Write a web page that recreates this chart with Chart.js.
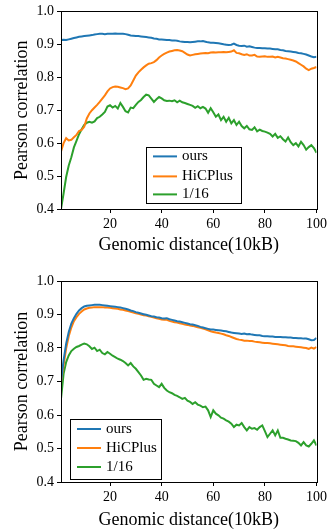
<!DOCTYPE html>
<html>
<head>
<meta charset="utf-8">
<script src="https://cdn.jsdelivr.net/npm/chart.js@4.4.1/dist/chart.umd.min.js"></script>
<style>
  html, body { margin: 0; padding: 0; background: #fff; }
  canvas { display: block; }
</style>
</head>
<body>
<canvas id="topChart" width="330" height="264"></canvas>
<canvas id="bottomChart" width="330" height="265"></canvas>
<script>
// genomic distance (10kB)
const distances = [
  1, 2, 3, 4, 5, 6, 7, 8, 9, 10, 11, 12, 13, 14, 15, 16, 17, 18, 19, 20,
  21, 22, 23, 24, 25, 26, 27, 28, 29, 30, 31, 32, 33, 34, 35, 36, 37, 38, 39, 40,
  41, 42, 43, 44, 45, 46, 47, 48, 49, 50, 51, 52, 53, 54, 55, 56, 57, 58, 59, 60,
  61, 62, 63, 64, 65, 66, 67, 68, 69, 70, 71, 72, 73, 74, 75, 76, 77, 78, 79, 80,
  81, 82, 83, 84, 85, 86, 87, 88, 89, 90, 91, 92, 93, 94, 95, 96, 97, 98, 99, 100,
];
const xTicks = [20, 40, 60, 80, 100];
const seriesNames = ["ours", "HiCPlus", "1/16"];

// top panel
const topOurs = [
  0.913, 0.914, 0.913, 0.915, 0.917, 0.919, 0.921, 0.923, 0.924, 0.925,
  0.926, 0.927, 0.928, 0.930, 0.931, 0.932, 0.932, 0.931, 0.932, 0.932,
  0.932, 0.933, 0.932, 0.932, 0.932, 0.931, 0.929, 0.927, 0.926, 0.925,
  0.925, 0.924, 0.923, 0.922, 0.921, 0.920, 0.918, 0.917, 0.915, 0.915,
  0.914, 0.913, 0.913, 0.912, 0.912, 0.911, 0.909, 0.908, 0.907, 0.907,
  0.906, 0.907, 0.908, 0.909, 0.909, 0.910, 0.908, 0.906, 0.905, 0.905,
  0.904, 0.903, 0.902, 0.900, 0.899, 0.898, 0.899, 0.902, 0.898, 0.896,
  0.895, 0.896, 0.893, 0.894, 0.892, 0.890, 0.889, 0.889, 0.888, 0.888,
  0.887, 0.887, 0.886, 0.885, 0.885, 0.883, 0.882, 0.880, 0.879, 0.878,
  0.877, 0.876, 0.874, 0.873, 0.871, 0.869, 0.866, 0.863, 0.861, 0.862,
];
const topHiCPlus = [
  0.575, 0.600, 0.615, 0.608, 0.610, 0.618, 0.625, 0.637, 0.640, 0.650,
  0.675, 0.690, 0.700, 0.708, 0.716, 0.725, 0.735, 0.745, 0.757, 0.766,
  0.770, 0.772, 0.771, 0.769, 0.767, 0.764, 0.766, 0.775, 0.790, 0.805,
  0.815, 0.823, 0.830, 0.836, 0.841, 0.843, 0.846, 0.852, 0.860, 0.866,
  0.871, 0.875, 0.878, 0.880, 0.882, 0.883, 0.881, 0.879, 0.874, 0.869,
  0.866, 0.868, 0.870, 0.871, 0.872, 0.873, 0.874, 0.873, 0.875, 0.876,
  0.875, 0.876, 0.876, 0.877, 0.876, 0.877, 0.878, 0.882, 0.874, 0.873,
  0.870, 0.868, 0.870, 0.866, 0.866, 0.868, 0.863, 0.862, 0.863, 0.864,
  0.862, 0.862, 0.863, 0.860, 0.862, 0.860, 0.858, 0.857, 0.855, 0.853,
  0.851, 0.848, 0.843, 0.838, 0.833, 0.826, 0.822, 0.826, 0.828, 0.831,
];
const topLow = [
  0.400, 0.447, 0.497, 0.532, 0.557, 0.587, 0.607, 0.627, 0.642, 0.655,
  0.662, 0.665, 0.662, 0.666, 0.676, 0.680, 0.687, 0.695, 0.711, 0.715,
  0.708, 0.713, 0.705, 0.722, 0.710, 0.697, 0.693, 0.708, 0.706, 0.716,
  0.725, 0.731, 0.740, 0.747, 0.745, 0.735, 0.725, 0.733, 0.740, 0.736,
  0.730, 0.728, 0.729, 0.727, 0.730, 0.724, 0.729, 0.724, 0.722, 0.719,
  0.716, 0.713, 0.707, 0.712, 0.706, 0.710, 0.705, 0.692, 0.706, 0.694,
  0.680, 0.687, 0.670, 0.680, 0.665, 0.677, 0.660, 0.670, 0.655, 0.665,
  0.652, 0.645, 0.652, 0.642, 0.640, 0.648, 0.636, 0.641, 0.637, 0.635,
  0.632, 0.628, 0.620, 0.628, 0.616, 0.621, 0.612, 0.605, 0.617, 0.603,
  0.594, 0.600, 0.590, 0.604, 0.594, 0.580, 0.588, 0.594, 0.585, 0.571,
];

// bottom panel
const bottomOurs = [
  0.698, 0.763, 0.813, 0.848, 0.873, 0.889, 0.902, 0.912, 0.919, 0.924,
  0.926, 0.927, 0.928, 0.929, 0.929, 0.929, 0.928, 0.927, 0.926, 0.925,
  0.924, 0.923, 0.922, 0.921, 0.919, 0.917, 0.915, 0.912, 0.910, 0.907,
  0.905, 0.903, 0.901, 0.899, 0.897, 0.895, 0.894, 0.892, 0.891, 0.889,
  0.888, 0.889, 0.886, 0.884, 0.882, 0.880, 0.879, 0.877, 0.875, 0.873,
  0.871, 0.870, 0.868, 0.866, 0.863, 0.861, 0.859, 0.857, 0.855, 0.855,
  0.854, 0.853, 0.852, 0.851, 0.850, 0.848, 0.846, 0.845, 0.844, 0.843,
  0.842, 0.843, 0.841, 0.842, 0.840, 0.839, 0.838, 0.838, 0.836, 0.835,
  0.835, 0.834, 0.834, 0.833, 0.833, 0.833, 0.832, 0.832, 0.831, 0.831,
  0.830, 0.830, 0.829, 0.829, 0.828, 0.828, 0.826, 0.823, 0.824, 0.830,
];
const bottomHiCPlus = [
  0.698, 0.748, 0.798, 0.835, 0.861, 0.880, 0.892, 0.902, 0.909, 0.915,
  0.918, 0.920, 0.921, 0.922, 0.922, 0.922, 0.922, 0.921, 0.921, 0.920,
  0.919, 0.918, 0.917, 0.915, 0.914, 0.912, 0.910, 0.908, 0.906, 0.904,
  0.902, 0.900, 0.898, 0.897, 0.895, 0.893, 0.891, 0.889, 0.887, 0.885,
  0.884, 0.884, 0.881, 0.879, 0.877, 0.876, 0.874, 0.872, 0.870, 0.869,
  0.867, 0.866, 0.864, 0.862, 0.860, 0.858, 0.856, 0.853, 0.850, 0.848,
  0.846, 0.845, 0.843, 0.841, 0.838, 0.836, 0.833, 0.830, 0.827, 0.825,
  0.824, 0.822, 0.822, 0.821, 0.821, 0.819, 0.818, 0.817, 0.816, 0.815,
  0.815, 0.814, 0.813, 0.812, 0.811, 0.810, 0.809, 0.808, 0.806, 0.805,
  0.805, 0.804, 0.803, 0.802, 0.801, 0.800, 0.797, 0.801, 0.798, 0.803,
];
const bottomLow = [
  0.648, 0.723, 0.758, 0.778, 0.791, 0.798, 0.803, 0.806, 0.810, 0.813,
  0.811, 0.805, 0.797, 0.801, 0.791, 0.795, 0.785, 0.781, 0.788, 0.783,
  0.777, 0.773, 0.768, 0.765, 0.761, 0.755, 0.748, 0.755, 0.745, 0.738,
  0.728, 0.718, 0.705, 0.708, 0.706, 0.705, 0.693, 0.688, 0.683, 0.693,
  0.681, 0.673, 0.668, 0.665, 0.660, 0.657, 0.653, 0.648, 0.651, 0.643,
  0.639, 0.633, 0.638, 0.631, 0.628, 0.623, 0.625, 0.614, 0.594, 0.614,
  0.604, 0.599, 0.592, 0.589, 0.584, 0.580, 0.574, 0.564, 0.571, 0.569,
  0.576, 0.564, 0.554, 0.564, 0.559, 0.561, 0.556, 0.564, 0.569, 0.552,
  0.534, 0.544, 0.554, 0.539, 0.554, 0.532, 0.532, 0.529, 0.527, 0.524,
  0.523, 0.522, 0.517, 0.509, 0.519, 0.509, 0.506, 0.514, 0.524, 0.509,
];

const colors = ["#1f77b4", "#ff7f0e", "#2ca02c"];
const serif = "'Liberation Serif', 'DejaVu Serif', serif";

function pts(vals) {
  return vals.map((v, i) => ({ x: distances[i], y: v }));
}

// black frame round the plot area + boxed legend inside it
const frameLegend = {
  id: "frameLegend",
  afterDraw(chart, args, opts) {
    const { ctx, chartArea: a } = chart;
    ctx.save();
    ctx.strokeStyle = "#000";
    ctx.lineWidth = 1;
    ctx.strokeRect(Math.round(a.left) + 0.5, Math.round(a.top) + 0.5,
      Math.round(a.right - a.left), Math.round(a.bottom - a.top));

    const bx = a.left + opts.x, by = a.top + opts.y;
    ctx.fillStyle = "#fff";
    ctx.fillRect(bx, by, opts.w, opts.h);
    ctx.strokeRect(Math.round(bx) + 0.5, Math.round(by) + 0.5, opts.w, opts.h);
    ctx.font = "15px " + serif;
    ctx.textBaseline = "middle";
    chart.data.datasets.forEach((ds, i) => {
      const ry = by + opts.rows[i];
      ctx.strokeStyle = ds.borderColor;
      ctx.lineWidth = 2;
      ctx.beginPath();
      ctx.moveTo(bx + 7, ry);
      ctx.lineTo(bx + 31, ry);
      ctx.stroke();
      ctx.fillStyle = "#000";
      ctx.fillText(ds.label, bx + 36, ry);
    });
    ctx.restore();
  },
};

function makeConfig(series, padTop, titlePadBottom, xHeight, legend) {
  return {
    type: "line",
    data: {
      datasets: series.map((vals, i) => ({
        label: seriesNames[i],
        data: pts(vals),
        borderColor: colors[i],
        borderWidth: 2,
        pointRadius: 0,
        tension: 0,
        fill: false,
      })),
    },
    options: {
      responsive: false,
      animation: false,
      layout: { padding: { top: padTop, right: 11, left: 0, bottom: 0 } },
      plugins: {
        legend: { display: false },
        tooltip: { enabled: false },
        frameLegend: legend,
      },
      scales: {
        x: {
          type: "linear",
          min: 1,
          max: 100,
          afterBuildTicks: (s) => { s.ticks = xTicks.map((v) => ({ value: v })); },
          afterFit: (s) => { s.height = xHeight; },
          border: { display: false },
          grid: { drawOnChartArea: false, drawTicks: true, tickLength: 4, color: "#000" },
          ticks: { color: "#000", font: { family: serif, size: 14 }, padding: 3, maxRotation: 0 },
          title: {
            display: true,
            text: "Genomic distance(10kB)",
            color: "#000",
            font: { family: serif, size: 18, lineHeight: 1 },
            padding: { top: 0, bottom: titlePadBottom },
          },
        },
        y: {
          min: 0.4,
          max: 1.0,
          afterFit: (s) => { s.width = 61; },
          border: { display: false },
          grid: { drawOnChartArea: false, drawTicks: true, tickLength: 4, color: "#000" },
          ticks: {
            stepSize: 0.1,
            color: "#000",
            font: { family: serif, size: 14 },
            padding: 3,
            callback: (v) => v.toFixed(1),
          },
          title: {
            display: true,
            text: "Pearson correlation",
            color: "#000",
            font: { family: serif, size: 18, lineHeight: 1 },
            padding: { top: 13, bottom: 0 },
          },
        },
      },
    },
    plugins: [frameLegend],
  };
}

new Chart(document.getElementById("topChart").getContext("2d"),
  makeConfig([topOurs, topHiCPlus, topLow], 8, 10, 55,
    { x: 85, y: 136, w: 95, h: 56, rows: [9, 29, 47] }));

new Chart(document.getElementById("bottomChart").getContext("2d"),
  makeConfig([bottomOurs, bottomHiCPlus, bottomLow], 17, 0, 47,
    { x: 9, y: 138, w: 91, h: 60, rows: [10, 29, 48] }));
</script>
</body>
</html>
